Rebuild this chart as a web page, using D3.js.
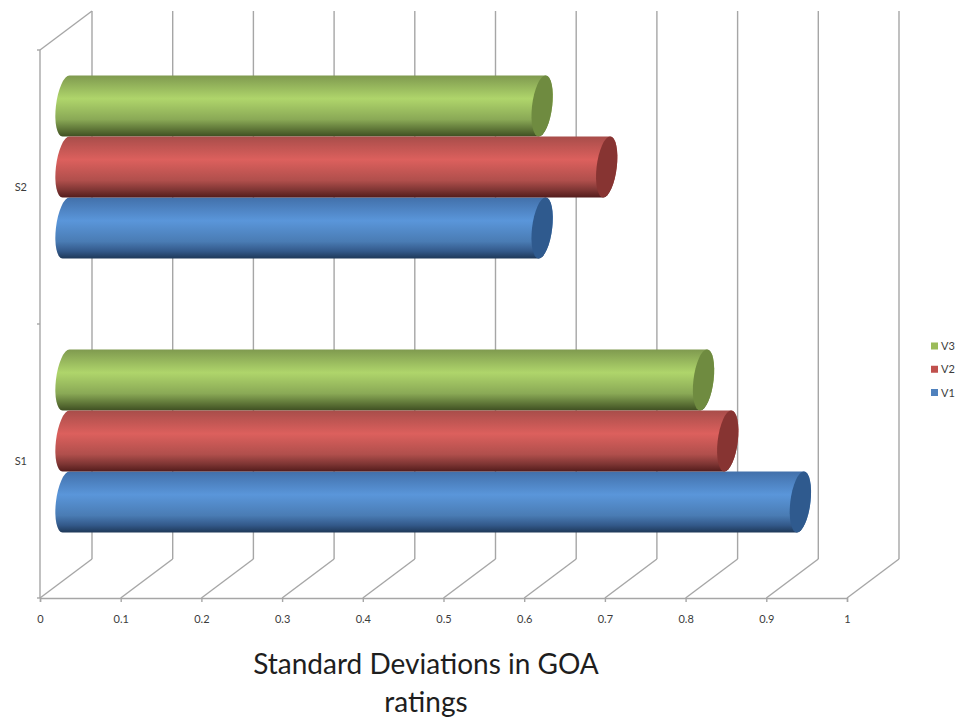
<!DOCTYPE html>
<html>
<head>
<meta charset="utf-8">
<script src="https://cdn.jsdelivr.net/npm/d3@7"></script>
<style>
  html, body { margin: 0; padding: 0; background: #fff; }
  svg { display: block; }
  text { font-family: Lato, "Open Sans", sans-serif; }
</style>
</head>
<body>
<svg id="chart" width="956" height="720"></svg>
<script>
// Chart data
const categories = ["S2", "S1"];
const seriesNames = ["V3", "V2", "V1"];
const valuesV1 = [0.59, 0.91];
const valuesV2 = [0.67, 0.82];
const valuesV3 = [0.59, 0.79];
const xTicks = [0, 0.1, 0.2, 0.3, 0.4, 0.5, 0.6, 0.7, 0.8, 0.9, 1];
const titleLines = ["Standard Deviations in GOA", "ratings"];

const valuesBySeries = { V1: valuesV1, V2: valuesV2, V3: valuesV3 };
const palette = {
  V3: { stops: ["#7f9a4f", "#afd56b", "#8aa956", "#5f7638", "#3f4f22"], cap: "#6f8b40", key: "#9bbb59" },
  V2: { stops: ["#a84d4a", "#dc605d", "#b04f4c", "#7d3533", "#531c1c"], cap: "#873432", key: "#c0504d" },
  V1: { stops: ["#4270aa", "#5a96da", "#4a7cb4", "#33598a", "#1e3858"], cap: "#2f5a8e", key: "#4f81bd" }
};
const stopOffsets = [0, 0.38, 0.72, 0.88, 1];

// Oblique projection of the 3-D box
const depthX = 52, depthY = -39;
const barShiftX = depthX / 2, barShiftY = -20;
const axisColor = "#a6a6a6";

const svg = d3.select("#chart");
const x = d3.scaleLinear().domain([0, 1]).range([40, 847]);
const y = d3.scaleBand().domain(categories).range([50, 598]);
const inner = d3.scaleBand().domain(["V3", "V2", "V1"])
  .range([45.5, y.bandwidth() - 45.5]);
const capRx = x(0.0125) - x(0);
const capSkew = -6.5;

// Bar shading runs across the cylinder
const defs = svg.append("defs");
seriesNames.forEach(name => {
  const g = defs.append("linearGradient").attr("id", "shade-" + name)
    .attr("x1", 0).attr("y1", 0).attr("x2", 0).attr("y2", 1);
  palette[name].stops.forEach((col, i) =>
    g.append("stop").attr("offset", stopOffsets[i]).attr("stop-color", col));
});

// Back wall gridlines and floor diagonals
const frame = svg.append("g").attr("fill", "none").attr("stroke", axisColor).attr("stroke-width", 1.4);
frame.selectAll(".wall").data(xTicks).join("line")
  .attr("x1", d => x(d) + depthX).attr("x2", d => x(d) + depthX)
  .attr("y1", y.range()[0] + depthY).attr("y2", y.range()[1] + depthY);
frame.selectAll(".floor").data(xTicks).join("line")
  .attr("x1", d => x(d)).attr("x2", d => x(d) + depthX)
  .attr("y1", y.range()[1]).attr("y2", y.range()[1] + depthY);

// Side wall and category axis
frame.append("line")
  .attr("x1", x(0)).attr("x2", x(0) + depthX)
  .attr("y1", y.range()[0]).attr("y2", y.range()[0] + depthY);
frame.append("line")
  .attr("x1", x(0)).attr("x2", x(0))
  .attr("y1", y.range()[0]).attr("y2", y.range()[1]);
frame.selectAll(".cat-tick").data([y.range()[0], y.range()[0] + y.step(), y.range()[1]]).join("line")
  .attr("x1", x(0) - 3).attr("x2", x(0))
  .attr("y1", d => d).attr("y2", d => d);

svg.selectAll(".cat-label").data(categories).join("text")
  .attr("x", 27).attr("y", d => y(d) + y.bandwidth() / 2 + 4)
  .attr("text-anchor", "end").attr("font-size", 11).attr("fill", "#3c3c3c")
  .text(d => d);

// Value axis
const axis = svg.append("g")
  .attr("transform", `translate(0,${y.range()[1]})`)
  .call(d3.axisBottom(x).tickValues(xTicks).tickSize(4).tickPadding(13).tickFormat(d3.format("~g")));
axis.select(".domain").attr("stroke", axisColor).attr("stroke-width", 1.4);
axis.selectAll(".tick line").attr("stroke", axisColor).attr("stroke-width", 1.4);
axis.selectAll("text").attr("font-size", 11).attr("fill", "#3c3c3c").style("font-family", "Lato, sans-serif");

// Cylinders: the middle series sits over its neighbours
const drawOrder = ["V3", "V1", "V2"];
categories.forEach((cat, ci) => {
  drawOrder.forEach(name => {
    const value = valuesBySeries[name][ci];
    const r = inner.bandwidth() / 2;
    const cy = y(cat) + inner(name) + r + barShiftY;
    const len = x(value) - x(0);
    const g = svg.append("g")
      .attr("transform", `translate(${x(0) + barShiftX},${cy}) skewX(${capSkew})`);
    g.append("path")
      .attr("d", `M0,${-r}L${len},${-r}A${capRx},${r} 0 0 1 ${len},${r}L0,${r}A${capRx},${r} 0 0 1 0,${-r}Z`)
      .attr("fill", `url(#shade-${name})`);
    g.append("ellipse")
      .attr("cx", len).attr("cy", 0).attr("rx", capRx).attr("ry", r)
      .attr("fill", palette[name].cap);
  });
});

// Legend
const legendY = d3.scalePoint().domain(seriesNames).range([346, 392.5]);
const legend = svg.selectAll(".legend").data(seriesNames).join("g")
  .attr("transform", d => `translate(931,${legendY(d)})`);
legend.append("rect").attr("x", 0).attr("y", -3.5).attr("width", 7).attr("height", 7)
  .attr("fill", d => palette[d].key);
legend.append("text").attr("x", 10).attr("y", 4)
  .attr("font-size", 11).attr("fill", "#3c3c3c").text(d => d);

// Title
svg.selectAll(".title").data(titleLines).join("text")
  .attr("x", 426).attr("y", (d, i) => 674 + i * 38)
  .attr("text-anchor", "middle").attr("font-size", 28).attr("fill", "#1e1e1e")
  .text(d => d);
</script>
</body>
</html>
